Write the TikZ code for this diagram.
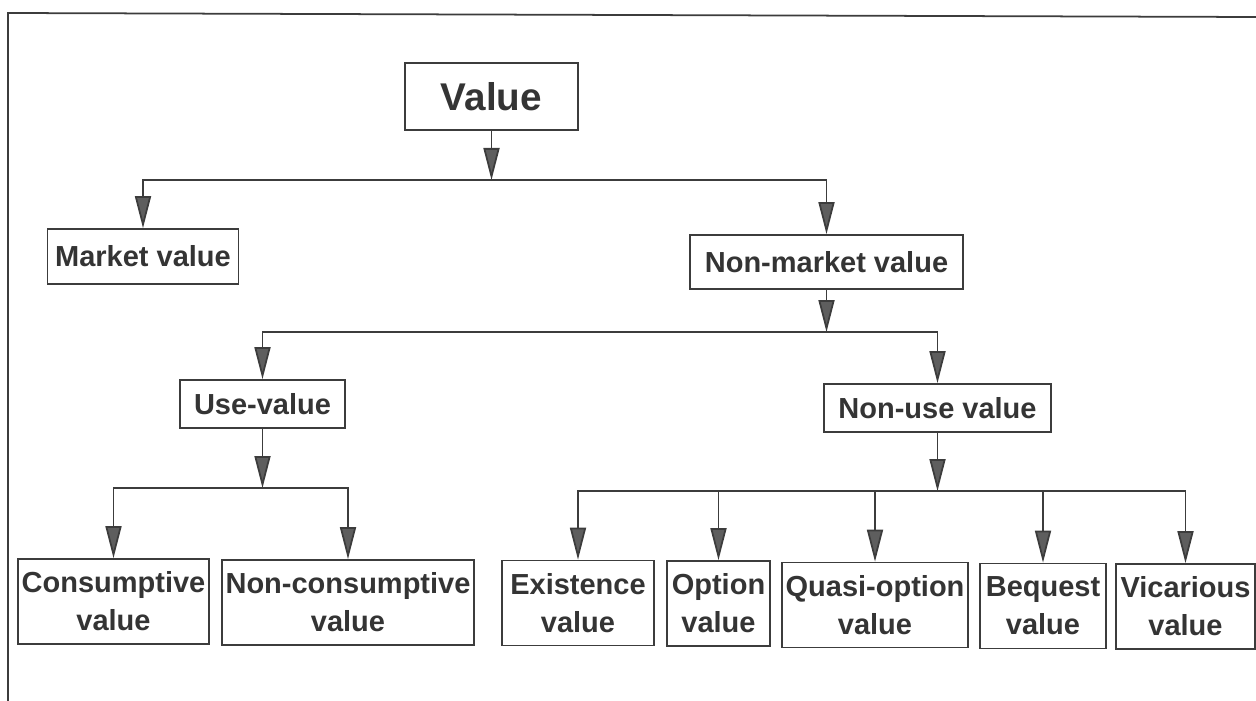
\documentclass[tikz,border=0pt]{standalone}
\usepackage{fontspec}
\setmainfont{Liberation Sans}
\usepackage{xcolor}
\usepackage{tikz}
\usetikzlibrary{arrows.meta,calc}
\definecolor{CInk}{HTML}{343434}
\definecolor{CLine}{HTML}{3C3C3C}
\definecolor{CHead}{HTML}{5E5E5E}

\begin{document}
\begin{tikzpicture}[x=0.2mm, y=-0.2mm,
  every node/.style={font=\bfseries\fontsize{16.5}{21.5}\selectfont, text=CInk},
  box/.style  ={draw=CLine, line width=1pt, align=center, inner sep=1pt},
  leaf/.style ={box, minimum height=1.70cm},
  arrow/.style={-{Triangle[length=6.4mm,width=3.2mm,fill=CHead]}, draw=CLine, line width=1pt},
  frame/.style={draw=CLine, line width=1pt}]
\useasboundingbox (0,0) rectangle (1256,701);
\draw[frame] (8,701) -- (8,13) -- (1256,17);
\node[box, minimum width=3.46cm, minimum height=1.34cm,
      font=\bfseries\fontsize{22}{26}\selectfont] (val) at (491.5,96.5) {Value};
\node[box, minimum width=3.82cm, minimum height=1.10cm] (mkt)  at (143,256.5)   {Market value};
\node[box, minimum width=5.46cm, minimum height=1.08cm] (nmkt) at (826.5,262)   {Non-market value};
\node[box, minimum width=3.30cm, minimum height=0.96cm] (use)  at (262.5,404)   {Use-value};
\node[box, minimum width=4.54cm, minimum height=0.96cm] (nuse) at (937.5,408)   {Non-use value};
\node[leaf, minimum width=3.82cm] (cons)  at (113.5,601.5) {Consumptive\\value};
\node[leaf, minimum width=5.04cm] (ncons) at (348,602.5)   {Non-consumptive\\value};
\node[leaf, minimum width=3.04cm] (exist) at (578,603)     {Existence\\value};
\node[leaf, minimum width=2.06cm] (opt)   at (718.5,603.5) {Option\\value};
\node[leaf, minimum width=3.72cm] (quasi) at (875,605)     {Quasi-option\\value};
\node[leaf, minimum width=2.52cm] (beq)   at (1043,606)    {Bequest\\value};
\node[leaf, minimum width=2.78cm] (vic)   at (1185.5,606.5){Vicarious\\value};
\coordinate (j1) at (491.5,180);
\coordinate (j2) at (826.5,332);
\coordinate (j3) at (262.5,488);
\coordinate (j4) at (937.5,491);
\draw[arrow] (val) -- (j1);
\draw[arrow] (nmkt) -- (j2);
\draw[arrow] (use) -- (j3);
\draw[arrow] (nuse) -- (j4);
\foreach \c in {mkt,nmkt} {\draw[arrow] (j1) -| (\c);}
\foreach \c in {use,nuse} {\draw[arrow] (j2) -| (\c);}
\foreach \c in {cons,ncons} {\draw[arrow] (j3) -| (\c);}
\foreach \c in {exist,opt,quasi,beq,vic} {\draw[arrow] (j4) -| (\c);}
\end{tikzpicture}
\end{document}
